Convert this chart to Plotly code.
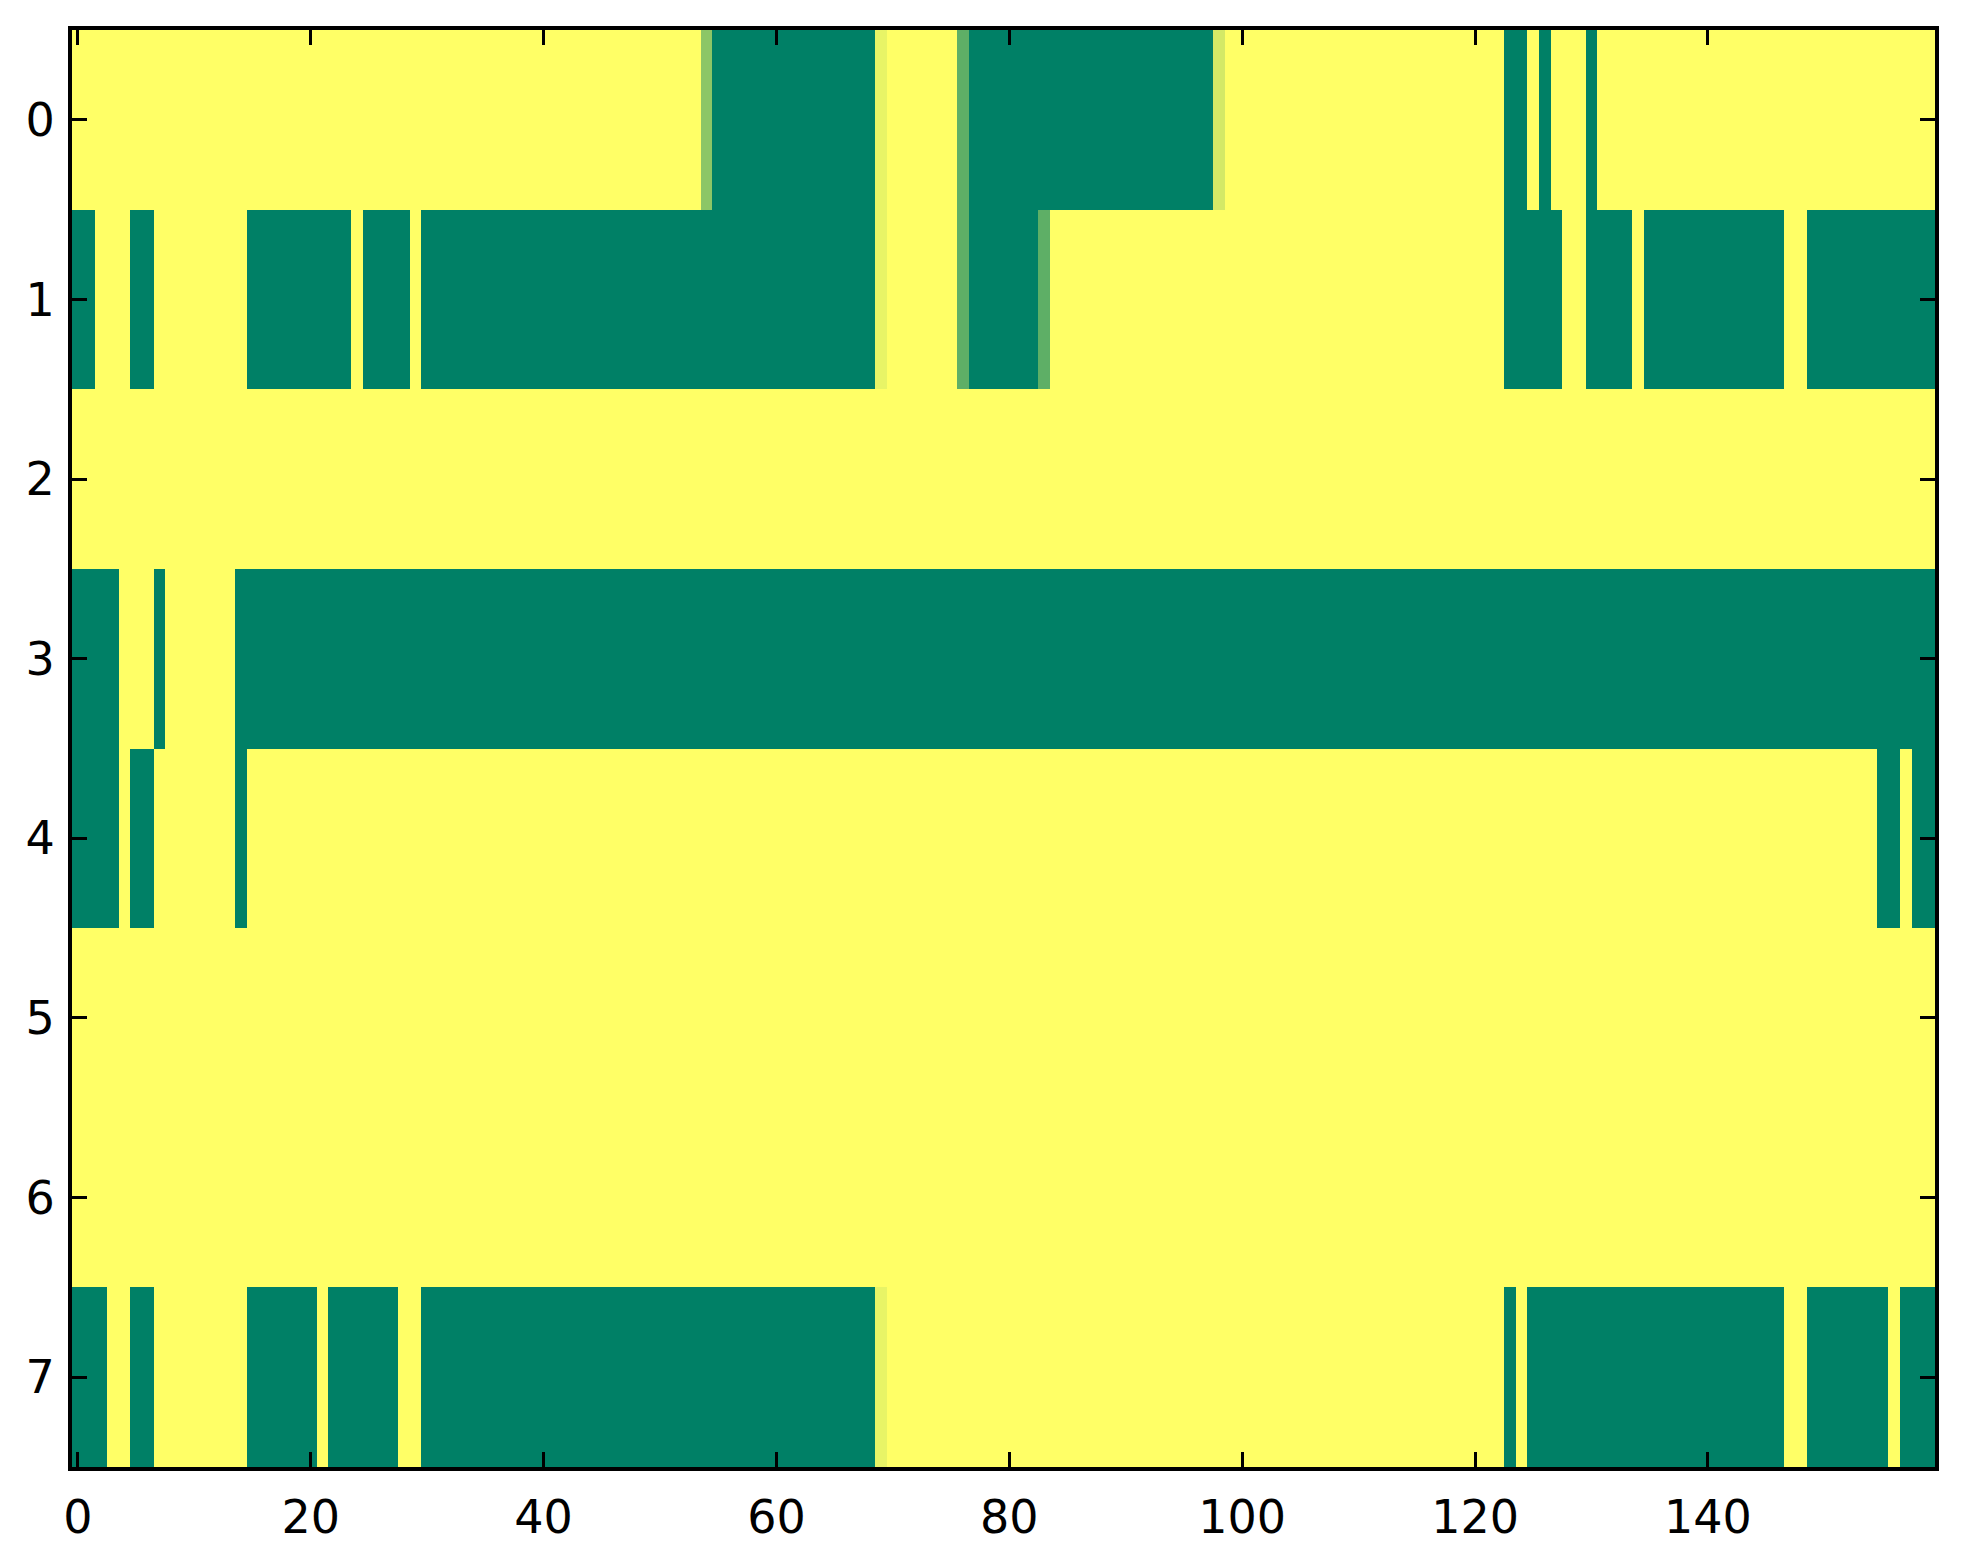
import plotly.graph_objects as go

# Run-length data per row: (value, count); 0 = green, 1 = yellow (summer colormap)
row0_runs = [(1, 54), (0.55, 1), (0, 14), (0.91, 1), (1, 6), (0.37, 1), (0, 21), (0.83, 1),
             (1, 24), (0, 2), (1, 1), (0, 1), (1, 3), (0, 1), (1, 29)]
row1_runs = [(0, 2), (1, 3), (0, 2), (1, 8), (0, 9), (1, 1), (0, 4), (1, 1), (0, 39), (0.91, 1),
             (1, 6), (0.37, 1), (0, 6), (0.37, 1), (1, 39), (0, 5), (1, 2), (0, 4), (1, 1),
             (0, 12), (1, 2), (0, 11)]
row2_runs = [(1, 160)]
row3_runs = [(0, 4), (1, 3), (0, 1), (1, 6), (0, 146)]
row4_runs = [(0, 4), (1, 1), (0, 2), (1, 7), (0, 1), (1, 140), (0, 2), (1, 1), (0, 2)]
row5_runs = [(1, 160)]
row6_runs = [(1, 160)]
row7_runs = [(0, 3), (1, 2), (0, 2), (1, 8), (0, 6), (1, 1), (0, 6), (1, 2), (0, 39), (0.91, 1),
             (1, 53), (0, 1), (1, 1), (0, 22), (1, 2), (0, 7), (1, 1), (0, 3)]

rows_runs = [row0_runs, row1_runs, row2_runs, row3_runs, row4_runs, row5_runs, row6_runs, row7_runs]

x_ticks = [0, 20, 40, 60, 80, 100, 120, 140]
y_ticks = [0, 1, 2, 3, 4, 5, 6, 7]


def expand(runs):
    out = []
    for v, n in runs:
        out.extend([v] * n)
    return out


z = [expand(r) for r in rows_runs]
ncols = len(z[0])

fig = go.Figure(go.Heatmap(
    z=z,
    x=list(range(ncols)),
    y=list(range(len(z))),
    colorscale=[[0, '#008066'], [1, '#ffff66']],
    zmin=0, zmax=1,
    showscale=False,
    zsmooth=False,
    hoverinfo='skip',
))

axis_common = dict(
    showline=True, linecolor='black', linewidth=4, mirror='ticks',
    ticks='inside', ticklen=15, tickwidth=2.5, tickcolor='black',
    showgrid=False, zeroline=False,
    tickfont=dict(family='DejaVu Sans', size=46, color='black'),
)

fig.update_xaxes(range=[-0.5, ncols - 0.5], tickvals=x_ticks, ticklabelstandoff=7, **axis_common)
fig.update_yaxes(range=[len(z) - 0.5, -0.5], tickvals=y_ticks, ticklabelstandoff=4, **axis_common)

fig.update_layout(
    width=1947, height=1548,
    margin=dict(l=64, r=20, t=22, b=89),
    paper_bgcolor='white', plot_bgcolor='white',
)

fig.write_html("out.html")
